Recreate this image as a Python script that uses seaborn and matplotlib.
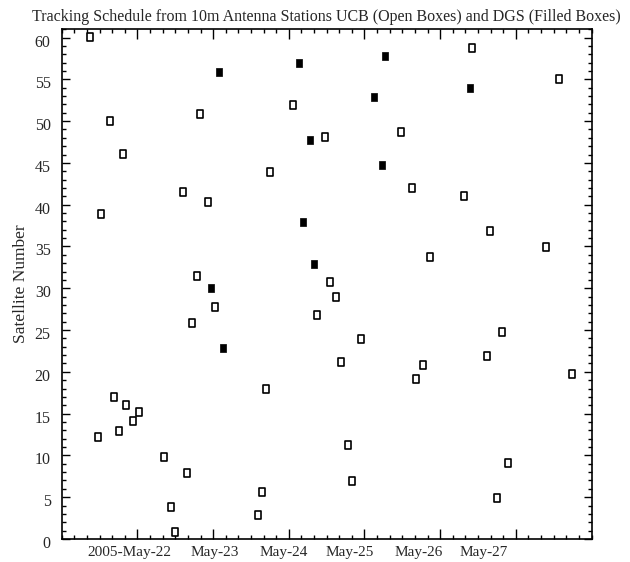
import numpy as np
import pandas as pd
import matplotlib
matplotlib.use('Agg')
import matplotlib.pyplot as plt
import matplotlib.transforms as mtransforms
from matplotlib.path import Path
import seaborn as sns

# dias em maio de 2005 (fração do dia) e número do satélite
ucb_dia = [21.373, 24.054, 22.823, 21.633, 21.804, 23.755, 22.608, 22.934, 21.523, 22.793,
           26.414, 27.565, 25.478, 24.476, 25.623, 26.321, 26.664, 27.402, 25.864, 24.55,
           24.63, 23.021, 22.718, 23.693, 21.685, 21.853, 22.024, 21.940, 21.76, 21.475,
           22.345, 22.652, 23.641, 22.437, 23.593, 22.490, 24.379, 24.955, 24.687, 26.813,
           26.62, 25.768, 25.684, 27.745, 24.779, 24.836, 26.893, 26.752]
ucb_sat = [60.1, 51.9, 50.9, 50.0, 46.1, 43.9, 41.5, 40.3, 38.9, 31.5,
           58.7, 55.0, 48.7, 48.1, 42.0, 41.1, 36.8, 34.9, 33.8, 30.7,
           29.0, 27.8, 25.9, 18.0, 17.0, 16.0, 15.2, 14.1, 12.9, 12.2,
           9.8, 7.9, 5.6, 3.8, 2.9, 0.8, 26.8, 23.9, 21.2, 24.8,
           21.9, 20.8, 19.1, 19.8, 11.3, 6.9, 9.1, 4.9]

dgs_dia = [23.074, 24.141, 24.282, 24.194, 24.331, 22.977, 23.127, 25.275, 26.392, 25.130, 25.231]
dgs_sat = [55.9, 56.9, 47.7, 37.9, 32.9, 30.0, 22.9, 57.8, 54.0, 52.9, 44.8]

rotulos = ['2005-May-22', 'May-23', 'May-24', 'May-25', 'May-26', 'May-27']
pos_rotulos = [21.90, 23.025, 23.93, 24.81, 25.71, 26.58]

ucb = pd.DataFrame({'dia': ucb_dia, 'sat': ucb_sat})
dgs = pd.DataFrame({'dia': dgs_dia, 'sat': dgs_sat})

sns.set_style('ticks')
plt.rcParams['font.family'] = ['Liberation Serif', 'DejaVu Serif']

# caixinha um pouco mais alta que larga
caixa = Path([(-0.8, -1), (0.8, -1), (0.8, 1), (-0.8, 1), (-0.8, -1)],
             [Path.MOVETO, Path.LINETO, Path.LINETO, Path.LINETO, Path.CLOSEPOLY])

fig = plt.figure(figsize=(6.3, 5.62), dpi=100)
ax = fig.add_axes([0.098, 0.041, 0.841, 0.907])

sns.scatterplot(data=ucb, x='dia', y='sat', marker=caixa, s=28, facecolor='white',
                edgecolor='black', linewidth=1.2, ax=ax)
sns.scatterplot(data=dgs, x='dia', y='sat', marker=caixa, s=36, facecolor='black',
                edgecolor='black', linewidth=0.5, ax=ax)

ax.set_xlim(21, 28)
ax.set_ylim(0, 61)
ax.set_xlabel('')
ax.set_ylabel('Satellite Number', fontsize=12.5, labelpad=4)
ax.set_title('Tracking Schedule from 10m Antenna Stations UCB (Open Boxes) and DGS (Filled Boxes)',
             fontsize=11.5, pad=6)

ax.set_xticks(np.arange(22, 28))
ax.set_xticks(np.arange(21, 28.01, 1 / 6), minor=True)
ax.set_xticklabels([])
ax.set_yticks(np.arange(0, 61, 5))
ax.set_yticks(np.arange(0, 62, 1), minor=True)
ax.tick_params(axis='both', which='both', direction='in', top=True, right=True, width=1, color='black')
ax.tick_params(axis='x', which='major', length=7.5)
ax.tick_params(axis='x', which='minor', length=3.2)
ax.tick_params(axis='y', which='major', length=6)
ax.tick_params(axis='y', which='minor', length=3)
ax.tick_params(axis='y', labelsize=11.5, pad=8)

# números do eixo y um pouco abaixo da marca, como no original
desloc = mtransforms.ScaledTranslation(0, -3 / 100, fig.dpi_scale_trans)
for lab in ax.get_yticklabels():
    lab.set_transform(lab.get_transform() + desloc)

# rótulos das datas deslocados das marcas, como no original
trans = mtransforms.blended_transform_factory(ax.transData, ax.transAxes)
for x, lab in zip(pos_rotulos, rotulos):
    ax.text(x, -0.014, lab, transform=trans, ha='center', va='top', fontsize=11)

for s in ax.spines.values():
    s.set_linewidth(1.2)
    s.set_color('black')

fig.savefig('out.png', dpi=100)
